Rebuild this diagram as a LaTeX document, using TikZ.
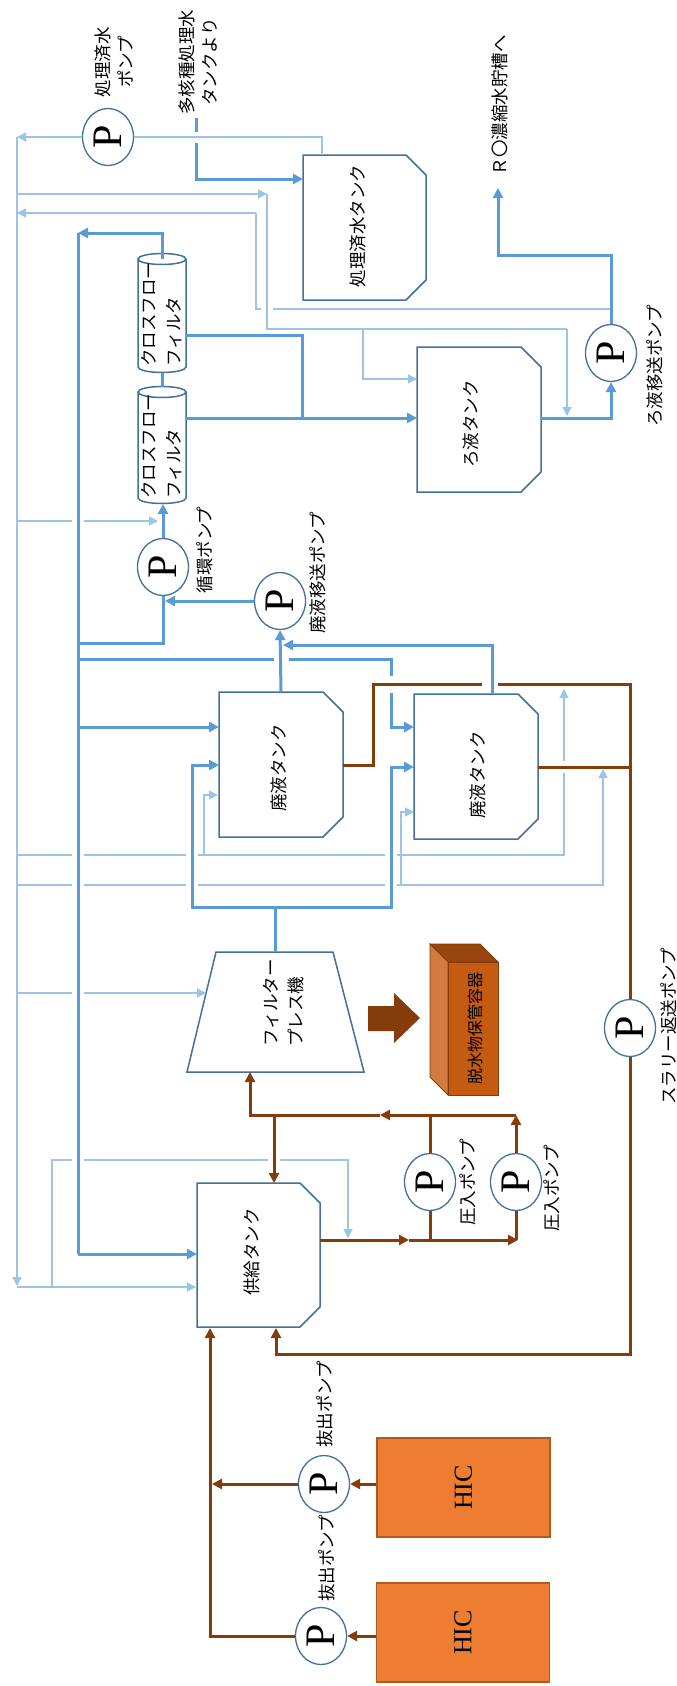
\documentclass[tikz,border=0pt]{standalone}
\usepackage{fontspec}
\usepackage{graphicx}
\setmainfont{Liberation Serif}
\newfontfamily\jp{Noto Sans CJK JP}
\usetikzlibrary{arrows.meta,shapes.geometric}
\definecolor{bT}{HTML}{5B9BD5}
\definecolor{bL}{HTML}{9DC3E6}
\definecolor{bO}{HTML}{41719C}
\definecolor{brC}{HTML}{843C0C}
\definecolor{hicF}{HTML}{ED7D31}
\definecolor{hicD}{HTML}{AE5A21}
\definecolor{boxF}{HTML}{C55A11}
\definecolor{boxL}{HTML}{D27B40}
\definecolor{boxT}{HTML}{9A4410}
\newcommand\tankbox[5]{%
  \node[minimum width=#4, minimum height=#5, inner sep=0, outer sep=0] (#1) at (#2,#3) {};
  \draw[tankline] (#1.north west) -- ([xshift=-20pt]#1.north east) -- ([yshift=-20pt]#1.north east)
    -- ([yshift=20pt]#1.south east) -- ([xshift=-20pt]#1.south east) -- (#1.south west) -- cycle;
}
\newcommand\cylinder[4]{%
  \draw[tankline, fill=white] ({#2-24},#3) -- ({#2-24},#4) arc[start angle=180, end angle=0, x radius=24, y radius=5.5] -- ({#2+24},#3);
  \draw[tankline, fill=white] (#2,#3) ellipse[x radius=24, y radius=5.5];
  \coordinate (#1-top) at (#2,{#3-5.5});
  \coordinate (#1-bot) at (#2,{#4+5.5});
}
\begin{document}
\begin{tikzpicture}[x=1pt,y=-1pt,
  bthick/.style={draw=bT, line width=3pt},
  bthin/.style={draw=bL, line width=1.3pt},
  brn/.style={draw=brC, line width=3pt},
  ta/.style={-{Triangle[length=10pt,width=10pt]}},
  na/.style={-{Triangle[length=9pt,width=9pt]}},
  ba/.style={-{Triangle[length=10pt,width=10pt]}},
  tankline/.style={draw=bO, line width=1.5pt},
  jlab/.style={rotate=90, font=\jp\fontsize{17.5}{23}\selectfont, inner sep=0, align=center},
  clab/.style={rotate=90, font=\jp\fontsize{17.5}{25}\selectfont, inner sep=0, align=left},
  pump/.style={ellipse, draw=bO, line width=1.3pt, fill=white, minimum width=51, minimum height=57, inner sep=0, font=\fontsize{42}{42}\selectfont},
  hic/.style={draw=hicD, fill=hicF, line width=1.5pt, minimum width=173, minimum height=99, inner sep=0, font=\fontsize{26}{26}\selectfont}]
\fill[white] (0,0) rectangle (677,1686);
\useasboundingbox (0,0) rectangle (677,1686);

% ---------- labels top ----------
\node[jlab] (lbA) at (114,62) {処理済水\\ポンプ};
\node[jlab] (lbB) at (198,62) {多核種処理水\\タンクより};
\node[jlab] (lbC) at (500,105) {Ｒ〇濃縮水貯槽へ};

% ---------- pumps ----------
\node[pump] (pA) at (108,137) {\rotatebox{90}{P}};
\node[pump] (pC) at (611,353) {\rotatebox{90}{P}};
\node[pump] (pB) at (163,567) {\rotatebox{90}{P}};
\node[pump] (pD) at (280,601) {\rotatebox{90}{P}};
\node[pump] (pE) at (630,1028) {\rotatebox{90}{P}};
\node[pump] (pF) at (430,1182) {\rotatebox{90}{P}};
\node[pump] (pG) at (516,1182) {\rotatebox{90}{P}};
\node[pump] (pH) at (324,1484) {\rotatebox{90}{P}};
\node[pump] (pI) at (321,1636) {\rotatebox{90}{P}};

\node[jlab] at (205,550) {循環ポンプ};
\node[jlab] at (318,573) {廃液移送ポンプ};
\node[jlab] at (655,366) {ろ液移送ポンプ};
\node[jlab] at (669,1026) {スラリー返送ポンプ};
\node[jlab] at (468,1182) {圧入ポンプ};
\node[jlab] at (552,1188) {圧入ポンプ};
\node[jlab] at (325,1404) {抜出ポンプ};
\node[jlab] at (327,1558) {抜出ポンプ};

% ---------- tanks ----------
\tankbox{tA}{364.5}{227.5}{123}{145}
\node[jlab] at (358,226) {処理済水タンク};
\tankbox{tB}{479}{419.5}{124}{145}
\node[jlab] at (471,424) {ろ液タンク};
\tankbox{tC}{281}{764.5}{124}{145}
\node[jlab] at (279,768) {廃液タンク};
\tankbox{tD}{476}{766.5}{124}{145}
\node[jlab] at (478,775) {廃液タンク};
\tankbox{tE}{258.5}{1255}{123}{144}
\node[jlab] at (252,1252) {供給タンク};

% ---------- cross flow filters ----------
\cylinder{cA}{162}{259}{367}
\node[clab] at (162,314) {クロスフロー\\フィルタ};
\cylinder{cB}{162}{392}{498}
\node[clab] at (162,446) {クロスフロー\\フィルタ};

% ---------- filter press ----------
\draw[tankline, fill=white] (216,952) -- (333,952) -- (364,1072) -- (187,1072) -- cycle;
\coordinate (fp-top) at (275,952);
\coordinate (fp-bot) at (250,1072);
\node[clab] at (284,1003) {フィルター\\プレス機};

% big arrow and storage box
\fill[brC] (368,1006) -- (394,1006) -- (394,993) -- (420,1018) -- (394,1043) -- (394,1031) -- (368,1031) -- cycle;
\filldraw[fill=boxT, draw=brC, line width=0.8pt] (430,944) -- (480,944) -- (498,962) -- (448,962) -- cycle;
\filldraw[fill=boxL, draw=brC, line width=0.8pt] (430,944) -- (448,962) -- (448,1095) -- (430,1077) -- cycle;
\filldraw[fill=boxF, draw=brC, line width=0.8pt] (448,962) rectangle (498,1095);
\node[jlab, font=\jp\fontsize{16}{20}\selectfont] (box) at (475,1028) {脱水物保管容器};

% ---------- HIC ----------
\node[hic] (hA) at (463.5,1487.5) {\rotatebox{90}{HIC}};
\node[hic] (hB) at (463,1632.5) {\rotatebox{90}{HIC}};

% ================= thin light-blue lines =================
\draw[bthin,na] (pA.west) -- (17,137);
\draw[bthin] (pA.east) -- (322,137) -- (322,155);
\draw[bthin,na] (17,137) -- (17,1286);
\draw[bthin,na] (17,1287) -- (196,1287);
\draw[bthin,na] (17,194) -- (267,194);
\draw[bthin] (267,194) -- (267,329) -- (567,329);
\draw[bthin,na] (567,329) -- (567,416);
\draw[bthin,na] (363,329) -- (363,379) -- (417,379);
\draw[bthin,na] (256,213) -- (17,213);
\draw[bthin] (256,213) -- (256,309) -- (261,309);
\draw[bthin] (273,309) -- (611,309);
\draw[bthin] (17,521) -- (72,521);
\draw[bthin,na] (84,521) -- (158,521);
% around waste tanks
\draw[bthin] (17,855) -- (72,855);
\draw[bthin] (84,855) -- (186,855);
\draw[bthin] (198,855) -- (385,855);
\draw[bthin] (397,855) -- (564,855) -- (564,773);
\draw[bthin,na] (564,761) -- (564,689);
\draw[bthin,na] (204,855) -- (204,795) -- (218,795);
\draw[bthin] (17,885) -- (72,885);
\draw[bthin] (84,885) -- (186,885);
\draw[bthin] (198,885) -- (385,885);
\draw[bthin,na] (397,885) -- (603,885) -- (603,769);
\draw[bthin,na] (401,885) -- (401,812) -- (414,812);
% filter press feed
\draw[bthin] (17,993) -- (72,993);
\draw[bthin,na] (84,993) -- (206,993);
% near supply tank
\draw[bthin] (52,1287) -- (52,1160) -- (72,1160);
\draw[bthin] (84,1160) -- (268,1160);
\draw[bthin,na] (280,1160) -- (348,1160) -- (348,1238);

% ================= thick blue lines =================
\draw[bthick] (196,118) -- (196,132);
\draw[bthick,ta] (196,143) -- (196,179) -- (303,179);
\draw[bthick,ta] (162,259) -- (162,233) -- (78,233);
\draw[bthick] (78,233) -- (78,1254);
\draw[bthick,ta] (78,1254) -- (197,1254);
\draw[bthick] (cA-bot) -- (cB-top);
\draw[bthick] (186,335) -- (302,335) -- (302,418);
\draw[bthick,ta] (186,418) -- (417,418);
\draw[bthick,ta] (541,418) -- (611,418) -- (pC.south);
\draw[bthick,ta] (pC.north) -- (611,255) -- (498,255) -- (498,188);
\draw[bthick,ta] (pB.north) -- (163,504);
\draw[bthick] (pB.south) -- (163,643) -- (78,643);
\draw[bthick,ta] (pD.west) -- (165,601);
\draw[bthick,ta] (281,692) -- (pD.south);
\draw[bthick,ta] (492,694) -- (492,645) -- (283,645);
\draw[bthick] (78,659) -- (274,659);
\draw[bthick] (289,659) -- (391,659) -- (391,676);
\draw[bthick,ta] (391,693) -- (391,727) -- (414,727);
\draw[bthick,ta] (78,727) -- (219,727);
\draw[bthick] (fp-top) -- (275,907);
\draw[bthick,ta] (275,907) -- (192,907) -- (192,765) -- (219,765);
\draw[bthick,ta] (275,907) -- (391,907) -- (391,767) -- (414,767);

% ================= brown lines =================
\draw[brn] (343,765) -- (373,765) -- (373,684) -- (482,684);
\draw[brn] (498,684) -- (630,684) -- (pE.north);
\draw[brn] (538,767) -- (630,767);
\draw[brn,ba] (pE.south) -- (630,1354) -- (276,1354) -- (276,1328);
\draw[brn,ba] (pG.north) -- (516,1115);
\draw[brn,ba] (516,1115) -- (380,1115);
\draw[brn,ba] (380,1115) -- (250,1115) -- (fp-bot);
\draw[brn] (pF.north) -- (430,1115);
\draw[brn,ba] (274,1115) -- (274,1183);
\draw[brn,ba] (320,1240) -- (409,1240);
\draw[brn,ba] (409,1240) -- (518,1240);
\draw[brn] (516,1240) -- (pG.south);
\draw[brn] (430,1240) -- (pF.south);
\draw[brn,ba] (hA.west |- pH) -- (pH.east);
\draw[brn,ba] (pH.west) -- (212,1484);
\draw[brn,ba] (hB.west |- pI) -- (pI.east);
\draw[brn,ba] (pI.west) -- (210,1636) -- (210,1328);
\end{tikzpicture}
\end{document}
